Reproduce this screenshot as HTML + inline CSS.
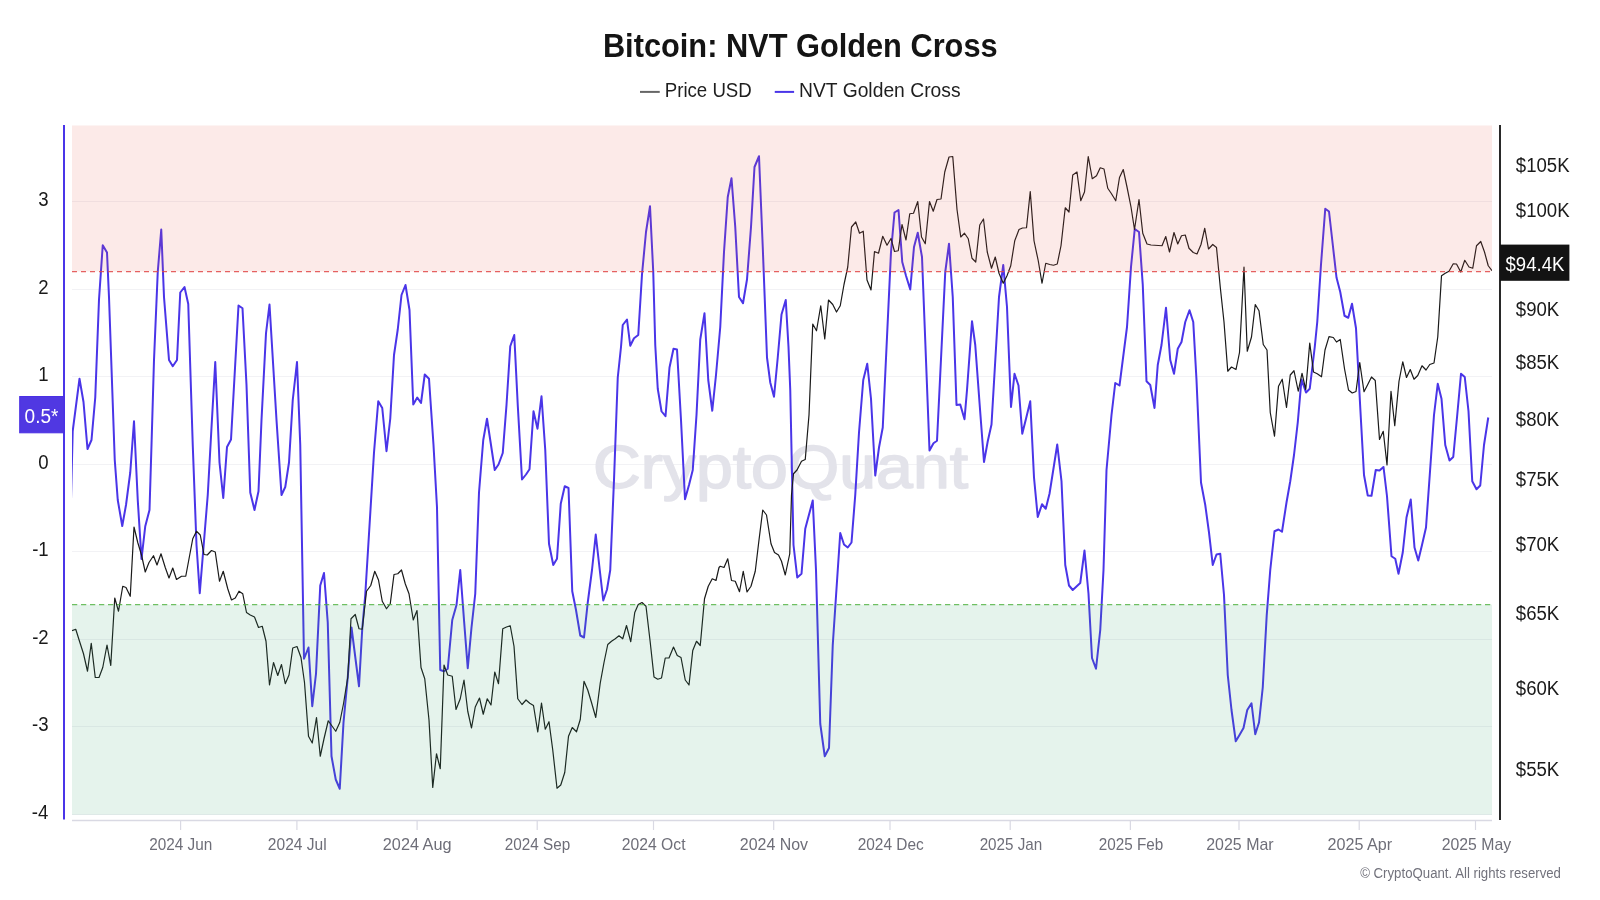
<!DOCTYPE html>
<html><head><meta charset="utf-8"><style>
html,body{margin:0;padding:0;background:#fff;width:1600px;height:900px;overflow:hidden}
svg{display:block;will-change:transform}
text{font-family:"Liberation Sans",sans-serif}
</style></head><body>
<svg width="1600" height="900" viewBox="0 0 1600 900">
<defs><clipPath id="pc"><rect x="72" y="125.5" width="1420" height="694.5"/></clipPath></defs>
<text transform="translate(602.91,57.00) scale(0.9498,1)" style="font-size:32.4px;font-weight:bold;fill:#141414">Bitcoin: NVT Golden Cross</text>
<line x1="640" x2="659.75" y1="91.9" y2="91.9" stroke="#666" stroke-width="2"/>
<text transform="translate(664.73,96.90) scale(0.8930,1)" style="font-size:20.9px;fill:#1e1e1e">Price USD</text>
<line x1="774.75" x2="794.1" y1="91.9" y2="91.9" stroke="#4a35e8" stroke-width="2"/>
<text transform="translate(799.03,97.00) scale(0.9235,1)" style="font-size:20.9px;fill:#1e1e1e">NVT Golden Cross</text>
<line x1="72" x2="1492" y1="201.5" y2="201.5" stroke="#f2f2f5" stroke-width="1"/><line x1="72" x2="1492" y1="289.5" y2="289.5" stroke="#f2f2f5" stroke-width="1"/><line x1="72" x2="1492" y1="376.5" y2="376.5" stroke="#f2f2f5" stroke-width="1"/><line x1="72" x2="1492" y1="464.5" y2="464.5" stroke="#f2f2f5" stroke-width="1"/><line x1="72" x2="1492" y1="551.5" y2="551.5" stroke="#f2f2f5" stroke-width="1"/><line x1="72" x2="1492" y1="639.5" y2="639.5" stroke="#f2f2f5" stroke-width="1"/><line x1="72" x2="1492" y1="726.5" y2="726.5" stroke="#f2f2f5" stroke-width="1"/>
<line x1="72" x2="1492" y1="814.5" y2="814.5" stroke="#f2f1f6" stroke-width="1"/>
<text transform="translate(593.05,487.95) scale(1.0809,1)" style="font-size:61.2px;fill:#e3e3ea;stroke:#e3e3ea;stroke-width:1.6px;stroke-linejoin:round">CryptoQuant</text>
<line x1="72" x2="1492" y1="820.5" y2="820.5" stroke="#d9d9e3" stroke-width="1.3"/>
<line x1="180.6" x2="180.6" y1="820.5" y2="830" stroke="#d9d9e3" stroke-width="1.2"/><text transform="translate(149.25,850.00) scale(0.9346,1)" style="font-size:16.4px;fill:#6e6e78">2024 Jun</text><line x1="296.9" x2="296.9" y1="820.5" y2="830" stroke="#d9d9e3" stroke-width="1.2"/><text transform="translate(267.84,850.00) scale(0.9484,1)" style="font-size:16.4px;fill:#6e6e78">2024 Jul</text><line x1="417.1" x2="417.1" y1="820.5" y2="830" stroke="#d9d9e3" stroke-width="1.2"/><text transform="translate(382.81,850.00) scale(0.9926,1)" style="font-size:16.4px;fill:#6e6e78">2024 Aug</text><line x1="537.2" x2="537.2" y1="820.5" y2="830" stroke="#d9d9e3" stroke-width="1.2"/><text transform="translate(504.85,850.00) scale(0.9316,1)" style="font-size:16.4px;fill:#6e6e78">2024 Sep</text><line x1="653.5" x2="653.5" y1="820.5" y2="830" stroke="#d9d9e3" stroke-width="1.2"/><text transform="translate(621.83,850.00) scale(0.9573,1)" style="font-size:16.4px;fill:#6e6e78">2024 Oct</text><line x1="773.7" x2="773.7" y1="820.5" y2="830" stroke="#d9d9e3" stroke-width="1.2"/><text transform="translate(739.82,850.00) scale(0.9726,1)" style="font-size:16.4px;fill:#6e6e78">2024 Nov</text><line x1="890.0" x2="890.0" y1="820.5" y2="830" stroke="#d9d9e3" stroke-width="1.2"/><text transform="translate(857.65,850.00) scale(0.9420,1)" style="font-size:16.4px;fill:#6e6e78">2024 Dec</text><line x1="1010.2" x2="1010.2" y1="820.5" y2="830" stroke="#d9d9e3" stroke-width="1.2"/><text transform="translate(979.66,850.00) scale(0.9285,1)" style="font-size:16.4px;fill:#6e6e78">2025 Jan</text><line x1="1130.4" x2="1130.4" y1="820.5" y2="830" stroke="#d9d9e3" stroke-width="1.2"/><text transform="translate(1098.65,850.00) scale(0.9322,1)" style="font-size:16.4px;fill:#6e6e78">2025 Feb</text><line x1="1239.0" x2="1239.0" y1="820.5" y2="830" stroke="#d9d9e3" stroke-width="1.2"/><text transform="translate(1206.22,850.00) scale(0.9736,1)" style="font-size:16.4px;fill:#6e6e78">2025 Mar</text><line x1="1359.2" x2="1359.2" y1="820.5" y2="830" stroke="#d9d9e3" stroke-width="1.2"/><text transform="translate(1327.61,850.00) scale(0.9845,1)" style="font-size:16.4px;fill:#6e6e78">2025 Apr</text><line x1="1475.5" x2="1475.5" y1="820.5" y2="830" stroke="#d9d9e3" stroke-width="1.2"/><text transform="translate(1441.63,850.00) scale(0.9648,1)" style="font-size:16.4px;fill:#6e6e78">2025 May</text>
<g clip-path="url(#pc)">
<polyline points="70.50,520.00 72.70,431.00 79.50,378.75 83.50,402.00 87.50,449.00 91.50,440.00 95.25,397.50 99.00,299.50 102.75,245.25 107.00,252.50 109.00,297.00 114.75,460.00 117.75,500.00 122.25,526.00 126.00,505.00 130.25,472.50 134.00,421.25 137.75,500.00 141.50,559.00 145.25,526.25 149.50,510.00 151.50,445.00 154.00,360.00 157.75,272.00 161.25,229.50 164.00,297.00 169.00,360.00 172.75,366.25 177.00,360.00 180.25,292.50 184.50,287.00 188.25,304.00 192.75,445.00 196.50,545.00 199.75,593.25 207.75,495.00 211.50,427.50 215.25,362.00 219.50,462.50 223.25,498.00 227.00,447.00 231.00,439.50 238.50,305.50 242.50,308.25 246.50,385.00 250.25,492.50 254.50,510.00 258.50,491.25 261.50,420.00 266.00,333.25 269.50,304.50 276.50,420.00 281.50,495.00 285.25,487.00 289.00,462.50 292.75,400.00 297.00,362.00 300.25,445.00 304.00,658.75 308.50,647.50 312.25,706.25 316.00,673.75 320.25,585.50 324.00,573.00 327.75,622.50 331.50,756.25 335.75,779.50 339.75,788.75 343.50,722.50 347.75,677.50 351.50,627.50 359.00,686.25 362.25,628.75 365.25,595.00 374.00,452.50 378.25,401.25 382.25,408.00 386.50,451.25 390.25,418.75 394.00,355.00 397.75,329.50 401.50,295.00 405.50,285.00 409.50,310.00 413.25,404.50 417.25,397.50 421.00,403.00 424.75,374.50 429.00,378.75 433.50,445.00 437.00,507.50 440.25,670.00 444.00,671.25 447.75,668.75 452.25,620.00 456.50,605.00 460.25,570.00 464.00,620.00 467.75,668.25 471.50,627.50 475.25,593.75 479.00,492.50 483.25,440.00 487.00,418.75 491.00,445.00 494.75,470.00 498.50,464.50 502.75,453.00 506.50,405.00 510.25,346.25 514.25,335.00 517.75,405.00 522.00,479.50 526.00,474.50 529.50,469.25 533.50,411.25 537.50,428.75 541.50,396.25 545.25,450.00 549.00,543.75 553.25,565.00 557.00,558.75 560.75,503.75 564.75,486.25 568.50,488.00 572.25,591.25 576.00,610.00 580.25,635.50 584.00,637.50 587.75,602.50 592.00,570.00 595.75,534.50 599.75,570.00 603.25,600.50 607.00,589.50 610.25,570.00 614.00,480.00 617.75,377.50 621.00,347.00 622.75,325.00 627.00,319.50 630.25,345.75 634.00,338.25 638.25,335.00 642.00,274.50 646.00,232.00 650.00,206.25 653.25,272.00 655.25,345.00 657.75,388.75 661.50,411.25 665.50,416.25 669.50,367.50 673.50,348.75 677.00,349.50 681.00,420.00 685.00,499.25 689.00,485.00 692.75,470.00 696.50,415.00 700.25,339.50 704.50,313.25 708.25,380.00 712.25,410.75 716.00,375.00 720.25,327.00 724.00,252.00 727.75,197.00 731.50,178.25 735.25,227.00 739.00,297.00 743.00,303.25 747.00,279.50 751.00,227.00 754.50,167.00 759.00,156.25 762.75,247.00 767.00,357.50 770.25,382.50 774.00,396.75 777.75,357.50 781.50,314.50 785.75,300.00 788.50,347.00 790.25,390.00 793.50,545.00 797.25,577.50 801.50,573.75 805.25,528.75 812.75,500.50 816.00,570.00 820.25,723.75 824.75,756.25 829.00,748.00 832.75,645.00 837.75,570.00 840.25,533.00 844.00,544.50 847.75,547.50 851.50,542.50 855.25,495.00 859.00,432.50 863.25,380.00 867.25,363.75 871.00,398.75 875.25,475.50 879.00,447.50 882.75,427.50 891.00,252.00 894.50,212.50 898.50,210.00 902.25,262.00 906.00,275.75 910.25,289.50 914.00,247.00 917.75,232.75 922.00,257.00 929.50,450.50 933.50,443.25 937.00,440.75 945.25,272.00 949.00,243.75 952.75,297.00 956.50,405.00 960.25,404.50 964.50,419.25 967.00,390.00 972.00,321.25 975.25,345.00 979.50,402.50 984.00,462.00 987.75,441.25 991.50,424.50 999.00,297.00 1003.25,265.00 1007.00,307.00 1011.00,407.00 1014.50,373.75 1018.50,385.50 1022.25,433.75 1026.00,418.75 1030.25,401.25 1034.00,477.50 1037.75,517.00 1042.00,504.25 1045.75,508.75 1049.50,493.75 1053.25,470.00 1057.25,444.50 1061.50,481.25 1065.25,565.00 1069.00,585.50 1072.75,590.00 1080.25,583.00 1084.50,550.50 1088.50,593.75 1092.00,658.00 1096.00,668.75 1100.25,630.00 1103.50,570.00 1106.50,470.00 1111.50,415.00 1115.25,383.00 1119.50,385.50 1127.00,327.00 1131.00,267.00 1134.75,229.00 1139.00,232.00 1142.75,284.50 1146.50,381.25 1150.25,385.00 1154.50,408.00 1157.75,365.00 1161.50,345.00 1166.00,307.75 1170.25,360.00 1174.00,373.75 1177.75,348.75 1181.50,342.00 1185.25,322.00 1189.50,310.25 1193.25,322.00 1196.50,380.00 1201.00,482.50 1205.25,505.00 1209.00,532.50 1212.75,565.00 1216.50,554.50 1220.25,553.75 1224.00,595.00 1227.75,675.00 1231.50,710.00 1235.75,741.25 1239.50,735.00 1243.50,728.00 1247.25,710.00 1251.50,703.25 1255.25,734.25 1259.00,722.50 1262.75,687.50 1266.70,615.60 1270.25,570.00 1274.50,531.25 1278.50,529.50 1282.00,531.75 1286.50,502.50 1290.25,481.25 1294.00,455.00 1297.75,422.50 1301.50,379.50 1306.00,392.50 1309.75,388.75 1314.75,347.00 1317.25,322.00 1321.00,264.50 1325.25,208.75 1329.00,211.50 1332.75,244.50 1336.50,277.50 1340.25,292.00 1344.50,315.75 1348.25,317.75 1352.00,303.75 1356.00,328.25 1360.25,407.50 1364.00,475.00 1367.75,495.50 1371.50,495.75 1375.75,470.00 1379.50,470.50 1383.50,467.00 1387.00,496.25 1391.50,556.25 1395.25,558.75 1398.50,573.75 1402.75,552.50 1406.50,517.50 1410.75,499.50 1414.50,547.50 1418.25,560.50 1422.00,545.00 1426.00,527.50 1429.75,475.00 1434.00,415.00 1437.75,383.75 1441.50,398.75 1445.25,445.00 1449.50,460.50 1453.25,457.00 1457.00,417.50 1461.00,373.75 1464.75,377.00 1468.50,411.25 1472.25,481.25 1476.50,489.25 1480.25,485.50 1484.00,445.00 1488.25,417.50" fill="none" stroke="#4a35e8" stroke-width="2.0" stroke-linejoin="round"/>
<polyline points="72.00,630.75 75.75,629.25 79.50,641.25 83.50,653.75 87.50,671.25 91.25,643.25 95.25,677.50 99.00,677.50 102.75,667.50 107.00,645.00 110.75,665.50 114.75,598.00 118.50,611.25 122.75,586.25 126.00,587.50 130.25,596.25 134.00,527.00 137.75,542.50 141.50,555.00 145.25,572.00 149.00,562.50 153.50,555.75 157.00,565.00 161.00,553.75 165.25,567.50 169.00,578.00 172.75,568.00 176.50,579.50 181.50,576.25 185.75,576.25 192.75,538.75 196.50,531.25 200.25,535.00 204.00,554.50 207.25,555.00 211.50,550.50 215.25,552.00 219.50,581.25 223.25,571.25 227.75,588.75 231.50,600.00 235.25,598.00 239.00,591.25 242.75,593.75 246.50,612.50 250.25,615.00 254.50,617.00 258.50,627.50 262.25,626.25 266.00,641.25 269.50,685.00 273.50,662.50 277.75,675.50 281.50,664.50 285.25,683.75 289.00,675.00 292.75,648.00 297.00,646.50 301.00,657.50 304.50,682.50 308.50,736.25 312.25,743.00 316.50,717.50 320.25,756.25 324.00,738.75 328.25,720.75 335.75,731.25 339.75,722.50 343.50,703.75 347.75,677.50 351.00,618.75 355.25,614.50 359.00,628.75 362.25,629.25 366.50,591.25 370.75,585.50 374.75,571.25 378.50,580.00 382.25,601.25 386.50,608.75 390.25,603.75 394.00,574.50 397.75,573.75 401.50,570.00 405.25,583.75 409.00,593.75 413.25,620.00 417.00,610.50 421.00,667.50 424.75,678.75 429.00,720.00 432.75,787.50 436.50,753.75 440.25,768.75 444.00,665.00 447.75,675.00 452.25,676.25 456.00,709.50 460.25,698.75 464.00,680.00 464.00,680.00 467.75,711.25 471.50,728.00 475.25,707.00 479.50,698.00 483.25,714.25 487.25,698.75 491.00,705.00 494.75,672.00 498.50,683.75 502.75,628.75 506.50,627.00 510.25,625.75 514.00,646.25 517.75,698.75 522.00,704.50 526.00,700.00 529.75,703.25 533.50,705.50 537.75,732.00 541.50,703.00 545.25,729.25 549.00,721.75 552.75,750.00 557.00,788.25 560.75,785.00 564.75,772.50 568.50,736.25 572.25,727.50 576.50,731.75 580.25,719.50 584.00,681.25 587.75,690.00 591.50,702.50 595.75,717.50 600.25,683.00 604.00,662.50 607.75,644.50 611.50,641.25 615.25,638.75 619.00,635.75 622.75,638.75 626.50,625.50 630.75,641.75 634.75,612.50 638.25,604.50 642.00,602.50 646.00,606.25 650.25,642.50 654.00,677.00 657.75,679.25 661.50,678.00 665.25,658.00 669.00,658.00 673.50,647.00 677.25,655.50 681.00,657.50 685.25,680.00 689.00,685.00 692.75,650.50 696.50,641.25 700.25,645.50 704.50,598.75 708.25,586.25 712.25,578.75 716.00,580.50 719.00,567.50 720.25,566.25 724.00,567.50 727.75,558.75 731.50,580.50 735.25,581.25 739.50,591.75 743.25,571.25 747.00,592.00 751.00,586.25 755.25,571.25 759.00,540.00 762.75,510.00 766.50,515.00 771.00,543.75 774.50,552.50 778.50,555.00 781.50,561.25 785.25,575.00 789.75,553.75 791.50,495.00 793.50,473.75 797.00,470.00 801.50,461.25 805.25,459.50 809.00,415.00 812.75,324.00 816.50,330.75 820.75,305.75 824.75,339.00 828.50,300.00 832.75,304.50 836.50,312.00 840.25,305.75 844.00,284.50 847.75,267.00 851.50,227.00 855.75,222.00 859.50,233.25 863.25,231.25 867.00,280.00 871.00,290.00 874.50,251.50 878.50,253.25 882.75,236.25 887.00,245.25 891.00,238.50 894.50,251.50 898.25,250.75 902.00,224.50 906.00,240.00 909.75,213.75 913.50,213.25 917.75,201.50 921.50,237.00 925.25,243.75 929.50,201.50 933.25,211.25 937.00,199.50 941.00,199.00 944.75,172.00 949.00,157.00 952.75,156.50 957.00,209.50 960.75,237.00 964.50,233.25 968.25,238.75 972.00,258.25 975.75,262.00 979.75,225.00 983.50,219.00 987.25,252.00 991.50,268.25 995.25,257.00 999.00,273.25 1003.25,283.25 1007.00,275.75 1010.75,265.75 1014.75,240.75 1019.00,229.50 1022.50,228.00 1026.50,227.75 1030.25,191.50 1034.00,240.75 1038.25,260.75 1042.00,283.25 1045.75,263.25 1049.75,264.50 1053.50,265.25 1057.25,264.00 1061.00,245.75 1065.25,207.75 1069.00,212.00 1072.75,175.00 1077.00,172.00 1080.75,200.75 1084.50,192.00 1088.25,156.50 1092.25,178.75 1096.50,175.75 1100.25,167.75 1104.00,169.00 1107.75,188.25 1111.50,193.75 1115.75,200.75 1119.50,177.50 1123.25,169.50 1127.00,187.00 1131.00,207.00 1134.50,229.50 1139.00,199.50 1142.75,233.25 1147.00,244.00 1151.00,245.00 1162.00,245.75 1165.75,236.50 1169.50,252.00 1174.00,232.50 1177.75,244.00 1181.50,235.75 1185.25,235.00 1189.00,248.25 1193.25,252.50 1197.00,254.00 1201.00,244.50 1204.75,228.25 1208.50,249.00 1212.75,244.50 1216.50,247.50 1220.25,287.00 1224.00,322.00 1227.75,371.25 1231.50,367.00 1236.00,369.50 1239.50,352.50 1244.00,267.00 1247.25,351.25 1251.50,337.00 1255.25,304.50 1259.00,310.75 1263.25,344.50 1267.00,350.00 1270.25,412.50 1274.50,436.25 1278.50,386.25 1282.25,379.25 1286.50,407.50 1290.25,375.00 1294.00,370.75 1298.25,391.25 1302.00,373.25 1305.75,389.50 1309.75,343.00 1313.50,372.00 1317.25,373.75 1321.50,376.75 1325.00,350.00 1329.00,336.70 1333.30,337.50 1336.50,342.00 1340.25,339.50 1344.50,368.75 1348.50,390.00 1352.25,393.00 1356.00,391.50 1359.75,362.50 1364.00,391.75 1367.75,384.50 1371.50,377.00 1375.25,380.50 1379.50,439.50 1383.25,431.25 1387.00,465.00 1391.00,391.25 1394.75,425.75 1399.00,381.25 1402.75,361.75 1406.50,377.50 1410.25,369.50 1414.00,379.25 1417.75,375.50 1422.00,365.75 1426.00,370.00 1429.75,364.50 1434.00,363.00 1437.75,337.00 1441.50,275.75 1445.25,273.25 1449.00,271.25 1453.25,263.75 1456.50,264.00 1460.75,272.00 1464.75,260.25 1469.00,267.00 1472.75,268.25 1476.50,245.75 1480.75,241.50 1484.50,252.00 1488.25,265.75 1492.00,270.75" fill="none" stroke="#1a1a1a" stroke-width="1.2" stroke-linejoin="round"/>
</g>
<rect x="72" y="125.5" width="1420" height="146.0" fill="rgb(231,85,71)" fill-opacity="0.125"/>
<rect x="72" y="604.6" width="1420" height="210.19999999999993" fill="rgb(47,159,103)" fill-opacity="0.125"/>

<line x1="72" x2="1492" y1="271.6" y2="271.6" stroke="#e04848" stroke-opacity="0.85" stroke-width="1.25" stroke-dasharray="5,4"/>
<line x1="72" x2="1492" y1="604.6" y2="604.6" stroke="#4cb03c" stroke-opacity="0.8" stroke-width="1.25" stroke-dasharray="5.25,3.75"/>
<line x1="64" x2="64" y1="125" y2="819.5" stroke="#4a35e8" stroke-width="2"/>
<line x1="1500" x2="1500" y1="125" y2="820" stroke="#111" stroke-width="1.8"/>
<text transform="translate(38.28,206.10) scale(0.8900,1)" style="font-size:20.9px;fill:#1a1a1a">3</text><text transform="translate(38.37,293.60) scale(0.8900,1)" style="font-size:20.9px;fill:#1a1a1a">2</text><text transform="translate(38.37,381.10) scale(0.8900,1)" style="font-size:20.9px;fill:#1a1a1a">1</text><text transform="translate(38.19,468.60) scale(0.8900,1)" style="font-size:20.9px;fill:#1a1a1a">0</text><text transform="translate(32.14,556.10) scale(0.8900,1)" style="font-size:20.9px;fill:#1a1a1a">-1</text><text transform="translate(32.14,643.60) scale(0.8900,1)" style="font-size:20.9px;fill:#1a1a1a">-2</text><text transform="translate(32.05,731.10) scale(0.8900,1)" style="font-size:20.9px;fill:#1a1a1a">-3</text><text transform="translate(31.78,818.60) scale(0.8900,1)" style="font-size:20.9px;fill:#1a1a1a">-4</text>
<text transform="translate(1515.83,171.52) scale(0.8900,1)" style="font-size:20.9px;fill:#1a1a1a">$105K</text><text transform="translate(1515.83,217.16) scale(0.8900,1)" style="font-size:20.9px;fill:#1a1a1a">$100K</text><text transform="translate(1515.83,315.73) scale(0.8900,1)" style="font-size:20.9px;fill:#1a1a1a">$90K</text><text transform="translate(1515.83,369.20) scale(0.8900,1)" style="font-size:20.9px;fill:#1a1a1a">$85K</text><text transform="translate(1515.83,425.92) scale(0.8900,1)" style="font-size:20.9px;fill:#1a1a1a">$80K</text><text transform="translate(1515.83,486.29) scale(0.8900,1)" style="font-size:20.9px;fill:#1a1a1a">$75K</text><text transform="translate(1515.83,550.84) scale(0.8900,1)" style="font-size:20.9px;fill:#1a1a1a">$70K</text><text transform="translate(1515.83,620.17) scale(0.8900,1)" style="font-size:20.9px;fill:#1a1a1a">$65K</text><text transform="translate(1515.83,695.05) scale(0.8900,1)" style="font-size:20.9px;fill:#1a1a1a">$60K</text><text transform="translate(1515.83,776.45) scale(0.8900,1)" style="font-size:20.9px;fill:#1a1a1a">$55K</text>
<rect x="19.7" y="396.5" width="44.3" height="36.3" fill="#5038e2" stroke="#4a2fe4" stroke-width="1"/>
<text transform="translate(24.57,423.30) scale(0.9114,1)" style="font-size:20.9px;fill:#ffffff">0.5*</text>
<rect x="1500" y="244.6" width="69.4" height="36.2" fill="#131313"/>
<text transform="translate(1505.53,271.30) scale(0.8889,1)" style="font-size:20.9px;fill:#ffffff">$94.4K</text>
<text transform="translate(1360.13,877.80) scale(0.8646,1)" style="font-size:15.3px;fill:#72727c">© CryptoQuant. All rights reserved</text>
</svg>
</body></html>
